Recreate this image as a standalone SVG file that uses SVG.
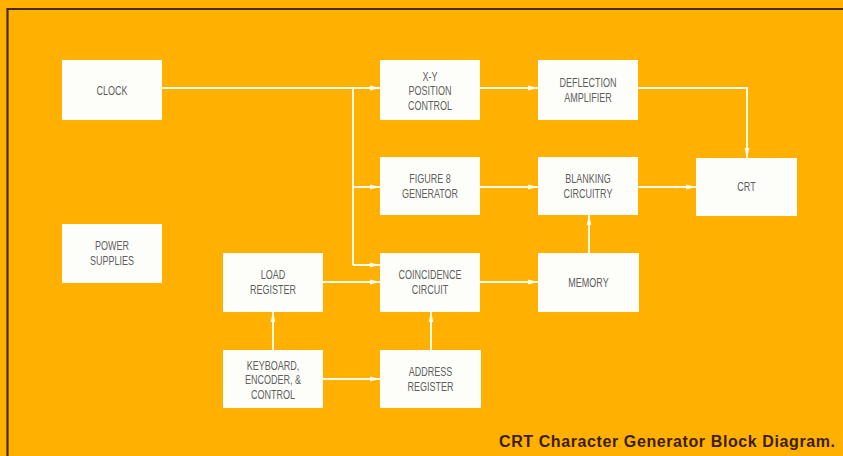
<svg xmlns="http://www.w3.org/2000/svg" width="843" height="456" viewBox="0 0 843 456">
<defs>
<marker id="ah" markerWidth="10" markerHeight="6" refX="10" refY="3" orient="auto" markerUnits="userSpaceOnUse">
<path d="M0,0.6 L10,3 L0,5.4 Z" fill="#fffbe8"/>
</marker>
<style>
.box{fill:#fdfdfa;}
.lbl{font-family:"Liberation Sans",Arial,sans-serif;font-size:12.5px;fill:#5e5e5e;text-anchor:middle;}
.wire{fill:none;stroke:#fffbe8;stroke-width:2;}
.arr{marker-end:url(#ah);}
.frame{stroke:#4a2800;stroke-width:2.2;fill:none;}
.cap{font-family:"Liberation Sans",Arial,sans-serif;font-size:16px;font-weight:bold;fill:#3d1d00;}
</style>
</defs>
<rect x="0" y="0" width="843" height="456" fill="#ffb000"/>
<path class="frame" d="M7.5,456 L7.5,9 L843,9"/>

<g id="connectors">
<path class="wire arr" d="M162,88 L380,88"/>
<path class="wire" d="M353,88 L353,265"/>
<path class="wire arr" d="M353,187 L380,187"/>
<path class="wire arr" d="M353,265 L380,265"/>
<path class="wire arr" d="M480,88 L538,88"/>
<path class="wire arr" d="M638,88 L747,88 L747,158"/>
<path class="wire arr" d="M480,187 L538,187"/>
<path class="wire arr" d="M638,187 L696,187"/>
<path class="wire arr" d="M589,253 L589,215"/>
<path class="wire arr" d="M323,282 L380,282"/>
<path class="wire arr" d="M480,282 L538,282"/>
<path class="wire arr" d="M431,350 L431,312"/>
<path class="wire arr" d="M273,350 L273,312"/>
<path class="wire arr" d="M323,379 L380,379"/>
</g>

<g id="clock">
<rect class="box" x="62" y="60" width="100" height="60"/>
<text class="lbl" transform="matrix(0.72 0 0 1 112 0)" y="95">CLOCK</text>
</g>
<g id="xy-position-control">
<rect class="box" x="380" y="60" width="100" height="60"/>
<text class="lbl" transform="matrix(0.72 0 0 1 430 0)"><tspan x="0" y="81">X-Y</tspan><tspan x="0" y="95.5">POSITION</tspan><tspan x="0" y="110">CONTROL</tspan></text>
</g>
<g id="deflection-amplifier">
<rect class="box" x="538" y="60" width="100" height="60"/>
<text class="lbl" transform="matrix(0.72 0 0 1 588 0)"><tspan x="0" y="87">DEFLECTION</tspan><tspan x="0" y="102">AMPLIFIER</tspan></text>
</g>
<g id="figure8-generator">
<rect class="box" x="380" y="157" width="100" height="58"/>
<text class="lbl" transform="matrix(0.72 0 0 1 430 0)"><tspan x="0" y="183">FIGURE 8</tspan><tspan x="0" y="198">GENERATOR</tspan></text>
</g>
<g id="blanking-circuitry">
<rect class="box" x="538" y="157" width="100" height="58"/>
<text class="lbl" transform="matrix(0.72 0 0 1 588 0)"><tspan x="0" y="183">BLANKING</tspan><tspan x="0" y="198">CIRCUITRY</tspan></text>
</g>
<g id="crt">
<rect class="box" x="696" y="158" width="101" height="58"/>
<text class="lbl" transform="matrix(0.72 0 0 1 746.5 0)" y="191.5">CRT</text>
</g>
<g id="power-supplies">
<rect class="box" x="62" y="224" width="100" height="59"/>
<text class="lbl" transform="matrix(0.72 0 0 1 112 0)"><tspan x="0" y="250">POWER</tspan><tspan x="0" y="265">SUPPLIES</tspan></text>
</g>
<g id="load-register">
<rect class="box" x="223" y="253" width="100" height="59"/>
<text class="lbl" transform="matrix(0.72 0 0 1 273 0)"><tspan x="0" y="279">LOAD</tspan><tspan x="0" y="294">REGISTER</tspan></text>
</g>
<g id="coincidence-circuit">
<rect class="box" x="380" y="253" width="100" height="59"/>
<text class="lbl" transform="matrix(0.72 0 0 1 430 0)"><tspan x="0" y="279">COINCIDENCE</tspan><tspan x="0" y="294">CIRCUIT</tspan></text>
</g>
<g id="memory">
<rect class="box" x="538" y="253" width="101" height="59"/>
<text class="lbl" transform="matrix(0.72 0 0 1 588.5 0)" y="287">MEMORY</text>
</g>
<g id="keyboard-encoder-control">
<rect class="box" x="223" y="350" width="100" height="58"/>
<text class="lbl" transform="matrix(0.72 0 0 1 273 0)"><tspan x="0" y="370">KEYBOARD,</tspan><tspan x="0" y="384.5">ENCODER, &amp;</tspan><tspan x="0" y="399">CONTROL</tspan></text>
</g>
<g id="address-register">
<rect class="box" x="380" y="350" width="101" height="58"/>
<text class="lbl" transform="matrix(0.72 0 0 1 430.5 0)"><tspan x="0" y="376">ADDRESS</tspan><tspan x="0" y="391">REGISTER</tspan></text>
</g>

<text class="cap" x="499" y="447" textLength="336" lengthAdjust="spacing">CRT Character Generator Block Diagram.</text>
</svg>
